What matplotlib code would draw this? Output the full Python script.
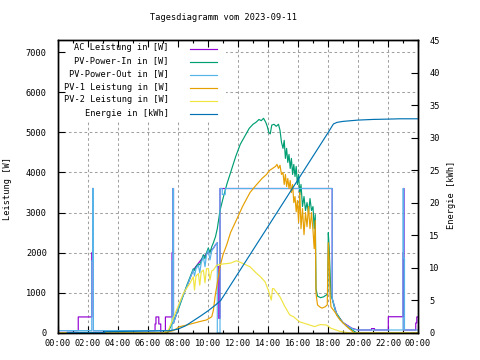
import matplotlib
matplotlib.use("Agg")
import matplotlib.pyplot as plt
from matplotlib.lines import Line2D
from matplotlib.patches import Rectangle

plt.rcParams["font.family"] = ["DejaVu Sans Mono"]
plt.rcParams["font.size"] = 6.2

TITLE = "Tagesdiagramm vom 2023-09-11"

# time of day in hours, power in W
ac_t = [0, 1.35, 1.35, 2.25, 2.25, 2.32, 2.32, 2.36, 2.36, 6.47, 6.47, 6.53, 6.53,
        6.72, 6.72, 6.85, 6.85, 7.16, 7.16, 7.60, 7.60, 7.66, 7.66, 7.70, 7.70,
        8.13, 8.58, 9.02, 9.69, 10.36, 10.50, 10.62, 10.62, 10.72, 10.72, 10.80,
        10.80, 18.28, 18.28, 18.6, 19.0, 19.6, 20.0, 20.9, 20.9, 21.1, 21.1, 22.02,
        22.02, 23.0, 23.0, 23.03, 23.03, 23.07, 23.07, 23.85, 23.85, 23.92, 23.92,
        24.0]
ac_w = [60, 60, 400, 400, 2000, 2000, 3600, 3600, 60, 60, 225, 225, 400,
        400, 225, 225, 0, 0, 400, 400, 2000, 2000, 3600, 3600, 240,
        740, 1150, 1570, 1900, 2110, 2200, 2250, 1650, 1650, 365, 365,
        3600, 3600, 860, 450, 260, 117, 75, 75, 110, 110, 75, 75,
        405, 405, 2000, 2000, 3600, 3600, 75, 75, 250, 250, 400,
        400]

pv_in_t = [0, 7.30, 7.50, 7.70, 8.00, 8.30, 8.60, 9.02, 9.10, 9.20, 9.36, 9.45,
           9.55, 9.69, 9.80, 9.90, 10.02, 10.13, 10.25, 10.36, 10.50, 10.62,
           10.80, 11.00, 11.25, 11.55, 11.85, 12.15, 12.45, 12.75, 13.00, 13.20,
           13.40, 13.55, 13.70, 13.85, 13.95, 14.05, 14.15, 14.25, 14.40, 14.55,
           14.70, 14.80, 14.90, 15.00, 15.08, 15.16, 15.24, 15.32, 15.40, 15.48,
           15.56, 15.64, 15.72, 15.80, 15.88, 15.96, 16.04, 16.12, 16.20, 16.30,
           16.40, 16.50, 16.60, 16.70, 16.80, 16.90, 17.00, 17.08, 17.15, 17.20,
           17.30, 17.50, 17.70, 17.90, 17.98, 18.02, 18.08, 18.14, 18.20, 18.26,
           18.35, 18.45, 18.55, 18.70, 18.85, 19.00, 19.20, 19.40, 19.60, 19.80,
           19.95, 24.0]
pv_in_w = [0, 0, 150, 300, 560, 880, 1200, 1600, 1560, 1650, 1720, 1700,
           1800, 1950, 1850, 2000, 2120, 2000, 2150, 2250, 2400, 2600,
           3050, 3350, 3700, 4050, 4400, 4700, 4900, 5100, 5200, 5250,
           5320, 5290, 5350, 5250, 5150, 5000, 4960, 5180, 5200, 5150,
           5200, 5050, 4750, 4600, 4800, 4350, 4600, 4250, 4450, 4100,
           4350, 3950, 4200, 3900, 4150, 3700, 3950, 3450, 3700, 3150,
           3400, 3050, 3250, 2980, 3350, 3050, 3150, 2600, 2950, 1100,
           920, 880, 900, 950, 990, 2500, 2100, 1500, 900, 880,
           750, 600, 500, 420, 330, 260, 190, 130, 80, 30,
           0, 0]

pv_out_t = [0, 2.25, 2.25, 2.32, 2.32, 2.36, 2.36, 7.60, 7.60, 7.66, 7.66, 7.70,
            7.70, 8.13, 8.58, 9.02, 9.10, 9.20, 9.36, 9.45, 9.55, 9.69, 9.80, 9.90,
            10.02, 10.13, 10.25, 10.36, 10.50, 10.62, 10.62, 10.80, 10.80, 10.95,
            10.95, 11.15, 11.15, 18.28, 18.28, 18.40, 18.50, 18.60, 18.80, 19.00,
            19.20, 19.40, 19.60, 19.70, 20.00, 23.00, 23.00, 23.05, 23.05, 23.10,
            23.10, 24.0]
pv_out_w = [60, 60, 1800, 1800, 3600, 3600, 60, 60, 1800, 1800, 3600, 3600,
            240, 740, 1150, 1570, 1420, 1600, 1690, 1500, 1750, 1900, 1650, 1950,
            2070, 1820, 2050, 2110, 2200, 2250, 0, 0, 3600, 3600,
            3450, 3450, 3600, 3600, 860, 700, 560, 450, 330, 260,
            200, 150, 117, 92, 75, 75, 3600, 3600, 1860, 1860,
            75, 75]

pv1_t = [0, 7.00, 7.70, 8.10, 8.60, 9.00, 9.50, 9.90, 10.25, 10.36, 10.47, 10.60,
         10.80, 11.00, 11.25, 11.50, 11.90, 12.30, 12.80, 13.20, 13.60, 13.90,
         14.10, 14.30, 14.50, 14.60, 14.70, 14.80, 14.90, 15.00, 15.08, 15.16,
         15.24, 15.32, 15.40, 15.48, 15.56, 15.64, 15.72, 15.80, 15.88, 15.96,
         16.04, 16.12, 16.20, 16.30, 16.40, 16.50, 16.60, 16.70, 16.80, 16.90,
         17.00, 17.08, 17.15, 17.20, 17.30, 17.45, 17.60, 17.80, 17.95, 18.02,
         18.08, 18.14, 18.20, 18.30, 18.40, 18.50, 18.60, 18.80, 19.00, 19.20,
         19.40, 19.60, 19.75, 24.0]
pv1_w = [0, 0, 60, 157, 200, 240, 290, 325, 405, 570, 905, 1200,
         1650, 1950, 2200, 2500, 2820, 3150, 3500, 3680, 3850, 3950,
         4050, 4100, 4150, 4200, 4100, 4180, 3950, 4000, 3700, 3950,
         3650, 3850, 3600, 3800, 3500, 3700, 3250, 3400, 3020, 3300,
         2750, 3500, 2600, 3100, 2450, 3000, 2650, 3150, 2600, 3000,
         2550, 2100, 2800, 990, 700, 650, 620, 650, 700, 2250,
         1800, 900, 650, 600, 550, 500, 430, 330, 250, 180,
         110, 50, 0, 0]

pv2_t = [0, 7.00, 7.36, 7.90, 8.36, 8.80, 9.02, 9.10, 9.20, 9.36, 9.45, 9.55,
         9.69, 9.80, 9.90, 10.02, 10.13, 10.25, 10.36, 10.58, 11.00, 11.50,
         11.90, 12.40, 12.80, 13.20, 13.50, 13.80, 14.02, 14.22, 14.30, 14.40,
         14.80, 15.13, 15.45, 15.70, 16.10, 16.60, 17.10, 17.50, 17.90, 18.20,
         18.40, 18.80, 19.30, 19.70, 24.0]
pv2_w = [0, 0, 75, 570, 990, 1240, 1400, 1070, 1420, 1480, 1190, 1520,
         1570, 1250, 1600, 1610, 1320, 1550, 1570, 1690, 1720, 1740,
         1800, 1720, 1650, 1500, 1400, 1280, 1070, 820, 1110, 1100,
         900, 655, 450, 405, 280, 220, 160, 210, 200, 117,
         92, 40, 10, 0, 0]

# energy of the day in kWh (right axis)
energy_t = [0.62, 3.10, 3.10, 7.45, 8.00, 8.50, 9.00, 9.50, 10.00, 10.50, 10.85,
            12.00, 13.00, 14.00, 15.00, 16.00, 17.00, 18.00, 18.36, 18.60, 19.00,
            19.50, 20.00, 21.00, 22.00, 22.80, 24.00]
energy_kwh = [0.10, 0.10, 0.20, 0.35, 0.60, 1.10, 1.85, 2.60, 3.40, 4.30, 5.00,
              9.15, 12.75, 16.35, 19.95, 23.55, 27.15, 30.75, 32.10, 32.35, 32.50,
              32.60, 32.70, 32.80, 32.85, 32.90, 32.90]

labels = ["AC Leistung in [W]", "PV-Power-In in [W]", "PV-Power-Out in [W]",
          "PV-1 Leistung in [W]", "PV-2 Leistung in [W]", "Energie in [kWh]"]
colors = ["#9400d3", "#009e73", "#56b4e9", "#e69f00", "#f0e442", "#0072b2"]

W, H = 480, 360
rect = [58 / W, 1 - 333 / H, 360 / W, 293 / H]
fig = plt.figure(figsize=(4.8, 3.6), dpi=100)

# grid on its own axes so the opaque key box can hide it
gax = fig.add_axes(rect, zorder=0)
gax.set_xlim(0, 24)
gax.set_ylim(0, 7300)
gax.set_xticks(range(0, 25, 2))
gax.set_yticks(range(0, 8000, 1000))
gax.grid(True, color="#a0a0a0", linestyle=(0, (2.5, 2.5)), linewidth=0.75)
gax.tick_params(length=0, labelleft=False, labelbottom=False)
for s in gax.spines.values():
    s.set_visible(False)
gax.add_patch(Rectangle((59 / W, 1 - 120 / H), (226 - 59) / W, (120 - 41) / H,
                        transform=fig.transFigure, facecolor="white",
                        edgecolor="none", zorder=3))

ax = fig.add_axes(rect, zorder=1)
ax.patch.set_visible(False)
lw = 0.85
ax.plot(ac_t, ac_w, color=colors[0], lw=lw)
ax.plot(pv_in_t, pv_in_w, color=colors[1], lw=lw)
ax.plot(pv_out_t, pv_out_w, color=colors[2], lw=lw)
ax.plot(pv1_t, pv1_w, color=colors[3], lw=lw)
ax.plot(pv2_t, pv2_w, color=colors[4], lw=lw)
ax.set_xlim(0, 24)
ax.set_ylim(0, 7300)
ax.set_xticks(range(0, 25, 2))
ax.set_xticklabels([f"{h % 24:02d}:00" for h in range(0, 25, 2)])
ax.set_xticks(range(0, 25), minor=True)
ax.set_yticks(range(0, 8000, 1000))
ax.tick_params(axis="x", which="both", direction="in", top=True, pad=4.5)
ax.tick_params(axis="x", which="major", length=5, width=0.8)
ax.tick_params(axis="x", which="minor", length=2.5, width=0.8)
ax.tick_params(axis="y", direction="in", length=5, width=0.8, right=False, pad=8)
for s in ax.spines.values():
    s.set_linewidth(1.0)

ax2 = ax.twinx()
ax2.set_zorder(2)
ax2.patch.set_visible(False)
ax2.plot(energy_t, energy_kwh, color=colors[5], lw=lw)
ax2.set_ylim(0, 45)
ax2.set_yticks(range(0, 50, 5))
ax2.tick_params(axis="y", direction="in", length=5, width=0.8, pad=8)
for s in ax2.spines.values():
    s.set_linewidth(1.0)

fig.text(224 / W, 1 - 17 / H, TITLE, ha="center", va="center")
fig.text(8 / W, 1 - 188 / H, "Leistung [W]", rotation=90, ha="center", va="center")
fig.text(452 / W, 1 - 195 / H, "Energie [kWh]", rotation=90, ha="center", va="center")

# gnuplot style key: right aligned text, sample line to the right
for i, (lab, col) in enumerate(zip(labels, colors)):
    y = 1 - (49 + 13 * i) / H
    fig.text(169 / W, y + 1 / H, lab, ha="right", va="center")
    fig.add_artist(Line2D([190 / W, 217 / W], [y, y], color=col, lw=lw,
                          transform=fig.transFigure))

fig.savefig("out.png", dpi=100)
